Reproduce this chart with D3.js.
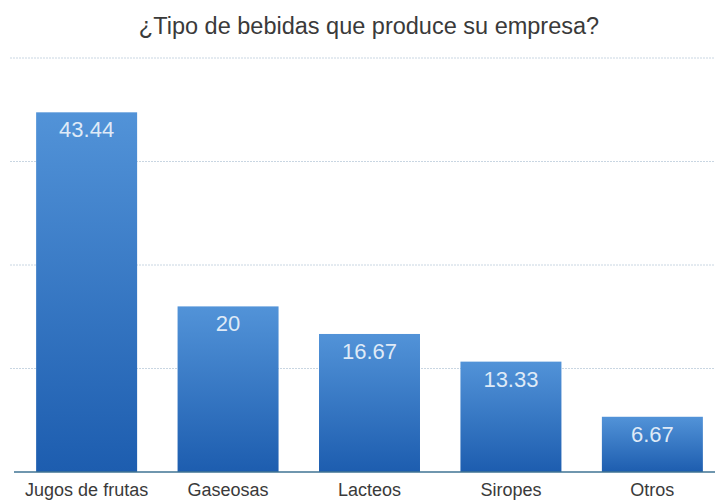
<!DOCTYPE html>
<html>
<head>
<meta charset="utf-8">
<script src="https://cdn.jsdelivr.net/npm/d3@7"></script>
<style>
  body { margin: 0; background: #fff; }
  .title { font-family: "Liberation Sans", Arial, sans-serif; font-size: 23.5px; fill: #3a3a3a; }
  .cat { font-family: "Liberation Sans", Arial, sans-serif; font-size: 18px; fill: #3a3a3a; }
  .val { font-family: "Liberation Sans", Arial, sans-serif; font-size: 22px; fill: #dfeaf7; }
</style>
</head>
<body>
<svg id="chart" width="715" height="500"></svg>
<script>
let categories = ["Jugos de frutas", "Gaseosas", "Lacteos", "Siropes", "Otros"];
let values = [43.44, 20, 16.67, 13.33, 6.67];
let valueLabels = ["43.44", "20", "16.67", "13.33", "6.67"];
let gridTicks = [12.5, 25, 37.5, 50];

let width = 715;
let height = 500;
let baseY = 472;
let topY = 58;

let svg = d3.select("#chart");

let x = d3.scaleBand()
          .domain(categories)
          .range([21, 718])
          .paddingInner(0.286)
          .paddingOuter(0.107);

let y = d3.scaleLinear().domain([0, 50]).range([baseY, topY]);

let grad = svg.append("defs").append("linearGradient")
              .attr("id", "barGrad")
              .attr("x1", 0).attr("y1", 0).attr("x2", 0).attr("y2", 1);
grad.append("stop").attr("offset", "0%").attr("stop-color", "#5293d8");
grad.append("stop").attr("offset", "100%").attr("stop-color", "#1d5daf");

// dotted gridlines
svg.append("g")
   .selectAll("line")
   .data(gridTicks)
   .enter()
   .append("line")
   .attr("x1", 10)
   .attr("x2", width)
   .attr("y1", d => y(d))
   .attr("y2", d => y(d))
   .attr("stroke", "#c9d6e2")
   .attr("stroke-width", 1)
   .attr("stroke-dasharray", "2,1");

svg.append("g")
   .selectAll("rect")
   .data(values)
   .enter()
   .append("rect")
   .attr("x", (d, i) => x(categories[i]))
   .attr("y", d => y(d))
   .attr("width", x.bandwidth())
   .attr("height", d => baseY - y(d))
   .attr("fill", "url(#barGrad)");

svg.append("g")
   .selectAll("text")
   .data(values)
   .enter()
   .append("text")
   .attr("class", "val")
   .attr("x", (d, i) => x(categories[i]) + x.bandwidth() / 2)
   .attr("y", d => y(d) + 25)
   .attr("text-anchor", "middle")
   .text((d, i) => valueLabels[i]);

// baseline
svg.append("line")
   .attr("x1", 14)
   .attr("x2", width)
   .attr("y1", baseY)
   .attr("y2", baseY)
   .attr("stroke", "#3f7393")
   .attr("stroke-width", 1.5);

svg.append("g")
   .selectAll("text")
   .data(categories)
   .enter()
   .append("text")
   .attr("class", "cat")
   .attr("x", d => x(d) + x.bandwidth() / 2)
   .attr("y", 496)
   .attr("text-anchor", "middle")
   .text(d => d);

svg.append("text")
   .attr("class", "title")
   .attr("x", 369)
   .attr("y", 34)
   .attr("text-anchor", "middle")
   .text("¿Tipo de bebidas que produce su empresa?");
</script>
</body>
</html>
